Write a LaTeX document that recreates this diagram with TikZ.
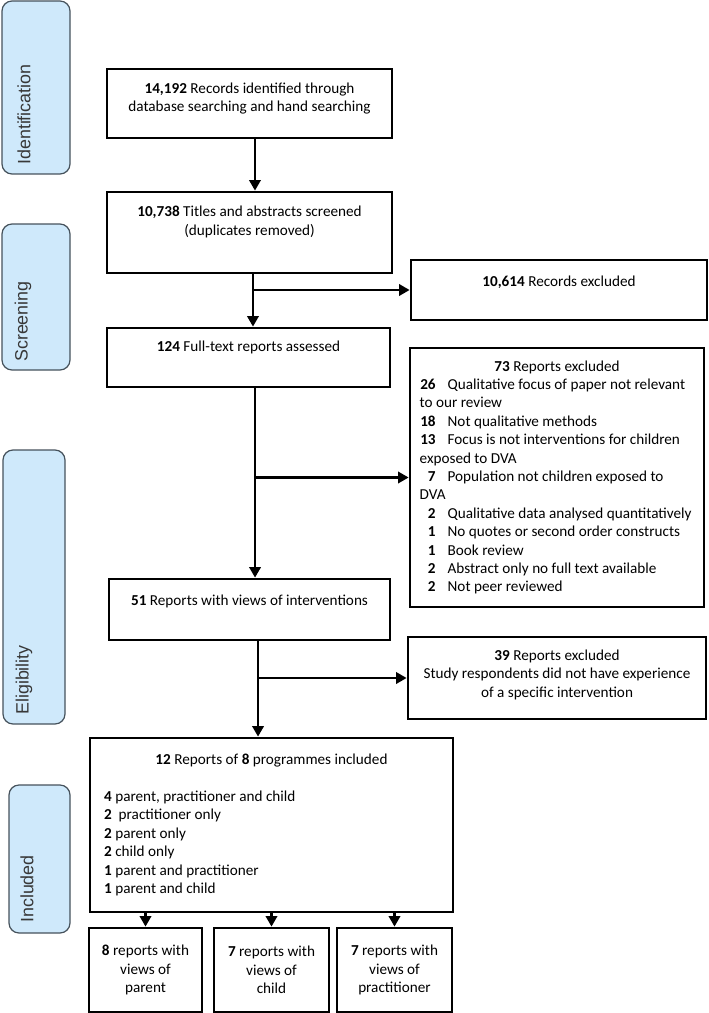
\documentclass[tikz,border=0pt]{standalone}
\usepackage{fontspec}
\setmainfont{Carlito}
\newfontfamily\stagefont{Liberation Sans}
\usepackage{xcolor}
\usepackage{tikz}
\usetikzlibrary{arrows.meta}
\definecolor{stagefill}{HTML}{CFE9FB}
\definecolor{stageline}{HTML}{46525C}
\newcommand{\exrow}[2]{\makebox[206pt][l]{\makebox[12pt][r]{\textbf{#1}}\hspace{9pt}#2}}
\newcommand{\exwrap}[1]{\makebox[206pt][l]{#1}}
\newcommand{\inrow}[1]{\makebox[251pt][l]{#1}}
\tikzset{
    flowbox/.style = {draw=black, line width=2pt, align=center, inner sep=0pt, font=\fontsize{11.4}{13.8}\selectfont},
    stagebar/.style = {draw=stageline, fill=stagefill, line width=0.9pt, rounded corners=7.5pt},
    stagelabel/.style = {anchor=west, rotate=90, inner sep=0pt, text=black!78, font=\stagefont\fontsize{13.4}{16}\selectfont}
}

\begin{document}
\begin{tikzpicture}
    [x=0.75pt, y=-0.75pt,
    >={Triangle[length=8pt, width=8.5pt]},
    arr/.style={->, line width=2pt}]

    \useasboundingbox (0,0) rectangle (709,1013);

    % stage bars on the left
    \draw[stagebar] (2,1) rectangle (70,174);
    \draw[stagebar] (2,224) rectangle (70,370);
    \draw[stagebar] (3,450) rectangle (65,724);
    \draw[stagebar] (9,785) rectangle (70,933);
    \node[stagelabel] (identlbl) at (24,165) {Identification};
    \node[stagelabel] (screenlbl) at (23,362) {Screening};
    \node[stagelabel] (eliglbl) at (24,715) {Eligibility};
    \node[stagelabel] (incllbl) at (27,923) {Included};

    % main column
    \node[flowbox, minimum width=213.75pt, minimum height=51.75pt, text depth=9.2pt] (found) at (249.5,103.5)
        {\textbf{14,192} Records identified through\\database searching and hand searching};
    \node[flowbox, minimum width=213.75pt, minimum height=60.75pt, text depth=17.8pt] (screened) at (249.5,232.5)
        {\textbf{10,738} Titles and abstracts screened\\(duplicates removed)};
    \node[flowbox, minimum width=212.25pt, minimum height=44.25pt, text depth=17.5pt] (fulltext) at (248.5,357.5)
        {\textbf{124} Full-text reports assessed};
    \node[flowbox, minimum width=210.75pt, minimum height=45.75pt, text depth=14.4pt] (views) at (249.5,609.5)
        {\textbf{51} Reports with views of interventions};
    \node[flowbox, minimum width=272.25pt, minimum height=130.5pt] (included) at (271.5,825)
        {\textbf{12} Reports of \textbf{8} programmes included\\[13.8pt]
        \inrow{\textbf{4} parent, practitioner and child}\\
        \inrow{\textbf{2}\ \ practitioner only}\\
        \inrow{\textbf{2} parent only}\\
        \inrow{\textbf{2} child only}\\
        \inrow{\textbf{1} parent and practitioner}\\
        \inrow{\textbf{1} parent and child}};

    % bottom row
    \node[flowbox, minimum width=84.75pt, minimum height=63pt] (parent) at (145.5,970)
        {\textbf{8} reports with\\views of\\parent};
    \node[flowbox, minimum width=86.25pt, minimum height=63pt] (child) at (271.5,970)
        {\textbf{7} reports with\\views of\\child};
    \node[flowbox, minimum width=86.25pt, minimum height=63pt] (pract) at (394.5,970)
        {\textbf{7} reports with\\views of\\practitioner};

    % exclusions
    \node[flowbox, minimum width=222pt, minimum height=45pt, text depth=13.6pt] (excl1) at (559,290)
        {\textbf{10,614} Records excluded};
    \node[flowbox, minimum width=220.5pt, minimum height=194.25pt] (excl2) at (557,477.5)
        {\textbf{73} Reports excluded\\
        \exrow{26}{Qualitative focus of paper not relevant}\\
        \exwrap{to our review}\\
        \exrow{18}{Not qualitative methods}\\
        \exrow{13}{Focus is not interventions for children}\\
        \exwrap{exposed to DVA}\\
        \exrow{7}{Population not children exposed to}\\
        \exwrap{DVA}\\
        \exrow{2}{Qualitative data analysed quantitatively}\\
        \exrow{1}{No quotes or second order constructs}\\
        \exrow{1}{Book review}\\
        \exrow{2}{Abstract only no full text available}\\
        \exrow{2}{Not peer reviewed}};
    \node[flowbox, minimum width=223.5pt, minimum height=61.5pt, text depth=6.9pt] (excl3) at (557,678)
        {\textbf{39} Reports excluded\\Study respondents did not have experience\\of a specific intervention};

    % connectors
    \draw[arr] ([xshift=4.1pt]found.south) -- ([xshift=4.1pt]found.south |- screened.north);
    \coordinate (s1) at ([xshift=2.6pt]screened.south);
    \draw[arr] (s1) -- (s1 |- fulltext.north);
    \draw[arr] (s1 |- excl1.west) -- (excl1.west);
    \coordinate (s2) at ([xshift=4.9pt]fulltext.south);
    \draw[arr] (s2) -- (s2 |- views.north);
    \draw[arr] (s2 |- excl2.west) -- (excl2.west);
    \coordinate (s3) at ([xshift=6.4pt]views.south);
    \draw[arr] (s3) -- (s3 |- included.north);
    \draw[arr] (s3 |- excl3.west) -- (excl3.west);
    \draw[arr] (parent.north |- included.south) -- (parent.north);
    \draw[arr] (child.north |- included.south) -- (child.north);
    \draw[arr] (pract.north |- included.south) -- (pract.north);
\end{tikzpicture}
\end{document}
